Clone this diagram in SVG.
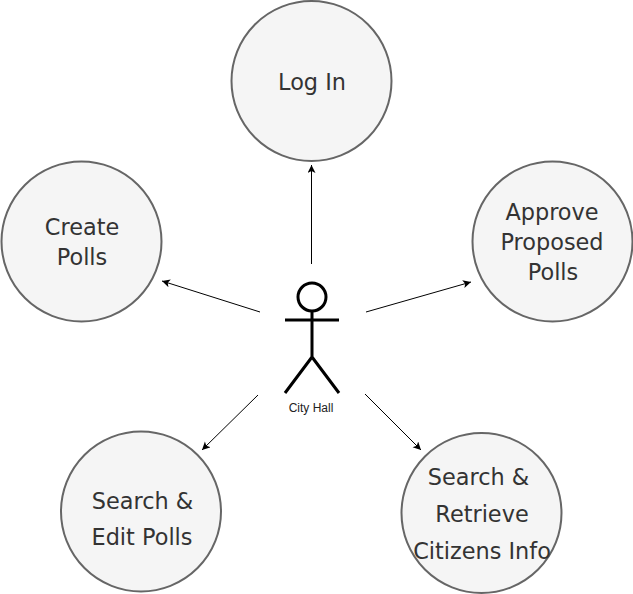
<svg xmlns="http://www.w3.org/2000/svg" width="633" height="594" viewBox="0 0 633 594">
<style>
.n{fill:#f5f5f5;stroke:#666;stroke-width:2}
.t{font-family:"DejaVu Sans",sans-serif;font-size:22.4px;fill:#333;text-anchor:middle}
.c{fill:none;stroke:#000;stroke-width:1;marker-end:url(#a)}
.s{fill:none;stroke:#000;stroke-width:3}
</style>
<defs><marker id="a" markerUnits="userSpaceOnUse" markerWidth="10" markerHeight="10" refX="8.500" refY="4" orient="auto"><path d="M0.500 0L8.500 4L0.500 8L2.500 4Z" fill="#000"/></marker></defs>
<rect width="633" height="594" fill="#fff"/>
<g id="connectors">
<path class="c" d="M311.500 264V165"/>
<path class="c" d="M260 312L162 281"/>
<path class="c" d="M366 312L471 282"/>
<path class="c" d="M258 395L202 450"/>
<path class="c" d="M365 394L421 450"/>
</g>
<g id="login"><circle class="n" cx="311.500" cy="81" r="80"/><text class="t" x="312" y="90">Log In</text></g>
<g id="create"><circle class="n" cx="81.500" cy="241.500" r="80"/><text class="t" x="82" y="235">Create</text><text class="t" x="82" y="265">Polls</text></g>
<g id="approve"><circle class="n" cx="552.500" cy="241.500" r="80"/><text class="t" x="552" y="220">Approve</text><text class="t" x="552" y="250">Proposed</text><text class="t" x="553" y="280">Polls</text></g>
<g id="edit"><circle class="n" cx="141" cy="511.500" r="80"/><text class="t" x="142.500" y="509">Search &amp;</text><text class="t" x="142" y="545">Edit Polls</text></g>
<g id="retrieve"><circle class="n" cx="481.500" cy="513" r="80"/><text class="t" x="478.500" y="485">Search &amp;</text><text class="t" x="482" y="522">Retrieve</text><text class="t" x="482" y="559">Citizens Info</text></g>
<g id="actor"><circle class="s" cx="312" cy="297" r="14"/><path class="s" d="M312 311V357M285 320H339M312 357L285 393M312 357L339 393"/><text x="311" y="412" font-family="Liberation Sans,Arial,sans-serif" font-size="12" fill="#222" text-anchor="middle">City Hall</text></g>
</svg>
